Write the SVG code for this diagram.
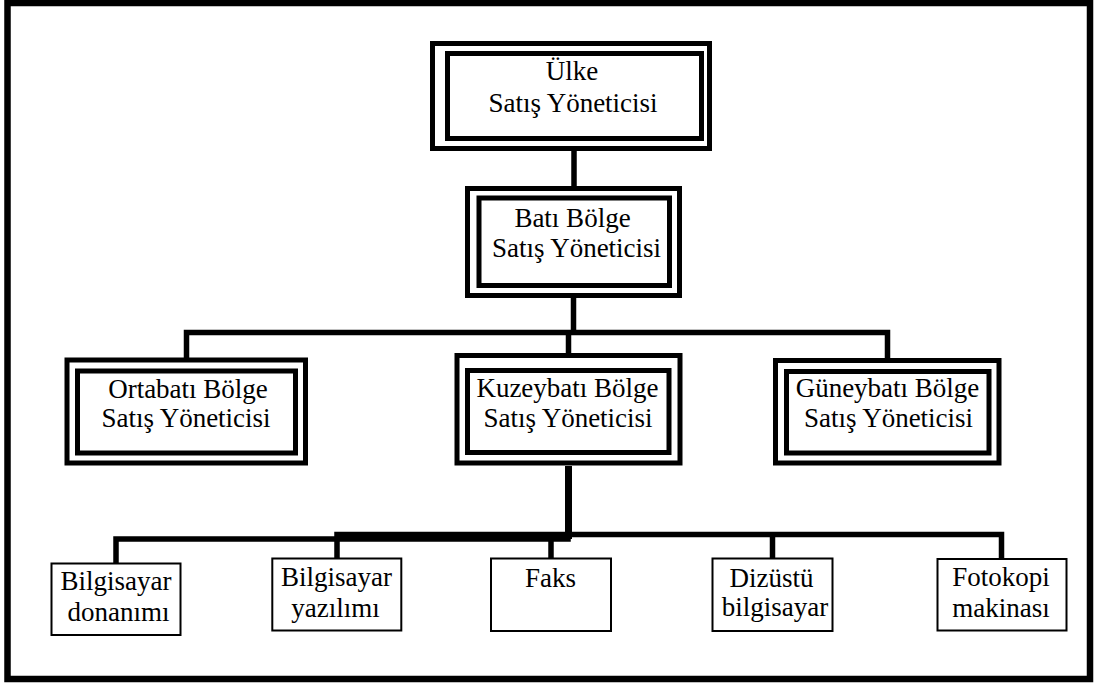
<svg xmlns="http://www.w3.org/2000/svg" width="1097" height="684" viewBox="0 0 1097 684">
<style>
  .o{fill:none;stroke:#000;stroke-width:5}
  .i{fill:none;stroke:#000;stroke-width:5}
  .s{fill:#fff;stroke:#000;stroke-width:2}
  .t{font-family:"Liberation Serif","Times New Roman",serif;font-size:27px;fill:#000;text-anchor:middle}
  .c{fill:none;stroke:#000;stroke-width:5.5;stroke-linecap:square}
</style>
<rect x="0" y="0" width="1097" height="684" fill="#fff"/>
<rect x="7.5" y="3" width="1082.5" height="676" fill="none" stroke="#000" stroke-width="6.5"/>
<g id="connectors">
  <line class="c" x1="574" y1="152" x2="574" y2="186"/>
  <line class="c" x1="573.5" y1="299" x2="573.5" y2="332"/>
  <polyline class="c" points="186.5,357 186.5,332.5 887.5,332.5 887.5,357"/>
  <line class="c" x1="568.5" y1="335" x2="568.5" y2="353"/>
  <line x1="568.5" y1="466" x2="568.5" y2="539" stroke="#000" stroke-width="7"/>
  <polyline class="c" points="116,562 116,539 568,539"/>
  <polyline class="c" points="337,557 337,534.5 1001.5,534.5 1001.5,557"/>
  <line class="c" x1="551" y1="537" x2="551" y2="557"/>
  <line class="c" x1="772.5" y1="537" x2="772.5" y2="557"/>
</g>
<g id="ulke">
  <rect class="o" x="432.5" y="43.5" width="277" height="105"/>
  <rect class="i" x="447.5" y="53.5" width="254" height="85"/>
  <text class="t" x="572" y="80">Ülke</text>
  <text class="t" x="573" y="111.5">Satış Yöneticisi</text>
</g>
<g id="bati">
  <rect class="o" x="467.5" y="188.5" width="212" height="107"/>
  <rect class="i" x="479" y="198" width="190.5" height="87.5"/>
  <text class="t" x="572.5" y="226.5">Batı Bölge</text>
  <text class="t" x="576.5" y="257">Satış Yöneticisi</text>
</g>
<g id="ortabati">
  <rect class="o" x="67" y="360" width="238.5" height="103"/>
  <rect class="i" x="77.5" y="371" width="218" height="82"/>
  <text class="t" x="188" y="398">Ortabatı Bölge</text>
  <text class="t" x="186" y="427">Satış Yöneticisi</text>
</g>
<g id="kuzeybati">
  <rect class="o" x="457" y="355.5" width="223" height="107.5"/>
  <rect class="i" x="467.5" y="370.5" width="201.5" height="82"/>
  <text class="t" x="567.5" y="397">Kuzeybatı Bölge</text>
  <text class="t" x="568" y="427">Satış Yöneticisi</text>
</g>
<g id="guneybati">
  <rect class="o" x="775.5" y="360.5" width="223.5" height="102.5"/>
  <rect class="i" x="786.5" y="371.5" width="202.5" height="81.5"/>
  <text class="t" x="887.5" y="397">Güneybatı Bölge</text>
  <text class="t" x="888.5" y="427">Satış Yöneticisi</text>
</g>
<g id="donanim">
  <rect class="s" x="51.5" y="563.5" width="129" height="71.5"/>
  <text class="t" x="116" y="590">Bilgisayar</text>
  <text class="t" x="118.5" y="621">donanımı</text>
</g>
<g id="yazilim">
  <rect class="s" x="272.3" y="558.5" width="129" height="72"/>
  <text class="t" x="336.5" y="585.5">Bilgisayar</text>
  <text class="t" x="335.5" y="616.5">yazılımı</text>
</g>
<g id="faks">
  <rect class="s" x="491" y="558.5" width="120" height="72.5"/>
  <text class="t" x="550.5" y="586.5">Faks</text>
</g>
<g id="dizustu">
  <rect class="s" x="712.5" y="558.5" width="120" height="72.5"/>
  <text class="t" x="771.5" y="586.5">Dizüstü</text>
  <text class="t" x="775" y="615.5">bilgisayar</text>
</g>
<g id="fotokopi">
  <rect class="s" x="937.5" y="559" width="129" height="71.5"/>
  <text class="t" x="1001" y="586">Fotokopi</text>
  <text class="t" x="1001" y="616.5">makinası</text>
</g>
</svg>
